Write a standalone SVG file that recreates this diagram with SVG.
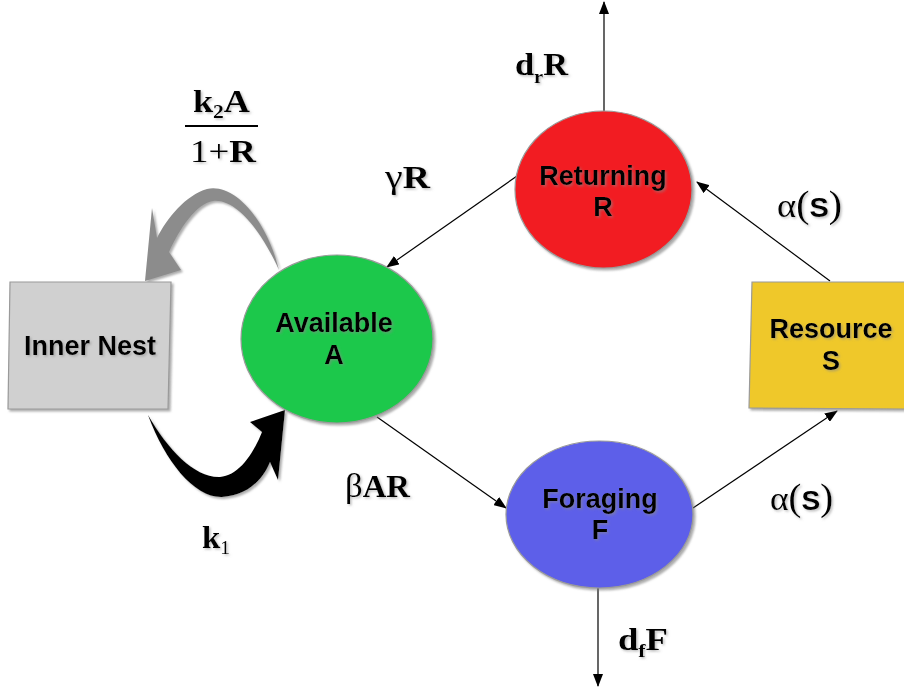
<svg xmlns="http://www.w3.org/2000/svg" width="904" height="690" viewBox="0 0 904 690">
<defs>
<style>
.node{stroke:#9a9a9a;stroke-width:1.2;filter:url(#sh)}
.lbl{font-family:"Liberation Sans",Arial,sans-serif;font-weight:bold;font-size:27px;fill:#000;text-anchor:middle;filter:url(#tsh)}
.math{font-family:"Liberation Serif","Times New Roman",serif;font-weight:bold;font-size:32px;fill:#000;filter:url(#tsh)}
.sub{font-size:19px}
.n{font-weight:normal}
.gr{font-weight:normal;font-size:34px}
.par{font-weight:normal;font-size:37px}
.ss{font-family:"Liberation Sans",Arial,sans-serif;font-weight:bold;font-size:27px}
.conn{stroke:#000;stroke-width:1.2;fill:none;marker-end:url(#ah)}
</style>
<filter id="sh" x="-10%" y="-10%" width="125%" height="125%">
<feDropShadow dx="2" dy="2" stdDeviation="1.2" flood-color="#777" flood-opacity="0.6"/>
</filter>
<filter id="tsh" x="-10%" y="-10%" width="130%" height="130%">
<feDropShadow dx="1.5" dy="1.5" stdDeviation="0.8" flood-color="#888" flood-opacity="0.55"/>
</filter>
<marker id="ah" markerWidth="13" markerHeight="10" refX="12" refY="5" orient="auto" markerUnits="userSpaceOnUse">
<path d="M0,0 L13,5 L0,10 Z" fill="#000"/>
</marker>
</defs>
<rect width="904" height="690" fill="#fff"/>

<g id="connectors">
<line class="conn" x1="604" y1="111" x2="604" y2="2"/>
<line class="conn" x1="517" y1="176" x2="387" y2="267"/>
<line class="conn" x1="377" y1="417" x2="506" y2="508"/>
<line class="conn" x1="693" y1="508" x2="837" y2="411"/>
<line class="conn" x1="830" y1="281" x2="697" y2="182"/>
<line class="conn" x1="598" y1="588" x2="598" y2="686"/>
<path id="gray-arrow" d="M 279 270 C 265 215 232 183 207 189 C 186 195 167 218 157 238 L 152 208 L 145 281 L 181 270 L 169 252 C 180 228 196 204 213 201 C 236 198 262 232 279 270 Z" fill="#8c8c8c" filter="url(#sh)"/>
<path id="black-arrow" d="M 148 415 C 165 462 195 498 222 497 C 245 496 262 482 270 462 L 278 480 L 285 410 L 250 422 L 262 432 C 253 455 238 476 220 477 C 195 478 168 450 148 415 Z" fill="#000" filter="url(#sh)"/>
</g>

<g id="inner-nest">
<path class="node" d="M 10 282 L 171 282 L 168 409 L 8 409 Z" fill="#d0d0d0"/>
<text class="lbl" x="90" y="355">Inner Nest</text>
</g>

<g id="available">
<ellipse class="node" cx="337" cy="339" rx="96" ry="84" fill="#1fc84b"/>
<text class="lbl" x="334" y="332">Available</text>
<text class="lbl" x="334" y="364">A</text>
</g>

<g id="returning">
<ellipse class="node" cx="603.5" cy="189.5" rx="88.5" ry="78.5" fill="#f21f22"/>
<text class="lbl" x="603" y="185">Returning</text>
<text class="lbl" x="603" y="216">R</text>
</g>

<g id="foraging">
<ellipse class="node" cx="599.5" cy="514.5" rx="93.5" ry="73.5" fill="#5d5fe9"/>
<text class="lbl" x="600" y="508">Foraging</text>
<text class="lbl" x="600" y="539">F</text>
</g>

<g id="resource">
<path class="node" d="M 752 282 L 906 282 L 906 409 L 749 408 Z" fill="#efc829"/>
<text class="lbl" x="831" y="338">Resource</text>
<text class="lbl" x="831" y="370">S</text>
</g>

<g id="labels">
<text class="math" x="193" y="112" textLength="57" lengthAdjust="spacingAndGlyphs">k<tspan class="sub" dy="6">2</tspan><tspan dy="-6">A</tspan></text>
<line x1="185" y1="126" x2="258" y2="126" stroke="#000" stroke-width="2.2"/>
<text class="math" x="190" y="162" textLength="66" lengthAdjust="spacingAndGlyphs"><tspan class="n">1+</tspan>R</text>
<text class="math" x="515" y="75" textLength="53" lengthAdjust="spacingAndGlyphs">d<tspan class="sub" dy="8">r</tspan><tspan dy="-8">R</tspan></text>
<text class="math" x="385" y="188" textLength="45" lengthAdjust="spacingAndGlyphs"><tspan class="gr">γ</tspan>R</text>
<text class="math" x="345" y="497" textLength="65" lengthAdjust="spacingAndGlyphs"><tspan class="gr">β</tspan>AR</text>
<text class="math" x="618" y="650" textLength="50" lengthAdjust="spacingAndGlyphs">d<tspan class="sub" dy="7">f</tspan><tspan dy="-7">F</tspan></text>
<text class="math" x="202" y="548" textLength="28" lengthAdjust="spacingAndGlyphs">k<tspan class="sub n" dy="6">1</tspan></text>
<text class="math" x="777" y="217" textLength="65" lengthAdjust="spacingAndGlyphs"><tspan class="gr">α</tspan><tspan class="par">(</tspan><tspan class="ss">S</tspan><tspan class="par">)</tspan></text>
<text class="math" x="770" y="510" textLength="63" lengthAdjust="spacingAndGlyphs"><tspan class="gr">α</tspan><tspan class="par">(</tspan><tspan class="ss">S</tspan><tspan class="par">)</tspan></text>
</g>
</svg>
